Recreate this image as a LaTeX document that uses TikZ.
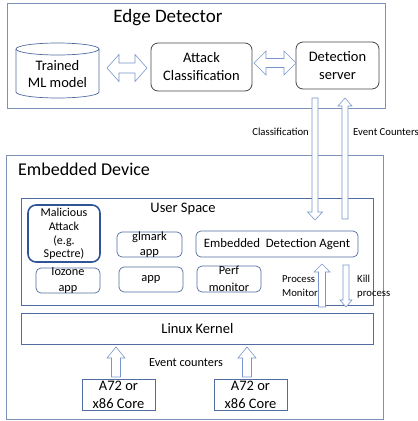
\documentclass[tikz,border=0pt]{standalone}
\usepackage{fontspec}
\setmainfont{Carlito}
\definecolor{outerc}{RGB}{125,145,185}
\definecolor{appc}{RGB}{80,108,160}
\definecolor{arrc}{RGB}{120,150,205}
\definecolor{darkb}{RGB}{47,85,151}
\definecolor{grayc}{RGB}{70,70,70}
\newcommand{\vup}[6]{% x, tip y, base y, shaft half, head half, head len
  \draw[blockarrow] (#1-#4,#3) -- (#1-#4,#2+#6) -- (#1-#5,#2+#6) -- (#1,#2) -- (#1+#5,#2+#6) -- (#1+#4,#2+#6) -- (#1+#4,#3) -- cycle;}
\newcommand{\vdown}[6]{% x, tip y, base y, shaft half, head half, head len
  \draw[blockarrow] (#1-#4,#3) -- (#1-#4,#2-#6) -- (#1-#5,#2-#6) -- (#1,#2) -- (#1+#5,#2-#6) -- (#1+#4,#2-#6) -- (#1+#4,#3) -- cycle;}
\newcommand{\hdouble}[6]{% x left, x right, y, shaft half, head half, head len
  \draw[blockarrow] (#1,#3) -- (#1+#6,#3-#5) -- (#1+#6,#3-#4) -- (#2-#6,#3-#4) -- (#2-#6,#3-#5) -- (#2,#3) -- (#2-#6,#3+#5) -- (#2-#6,#3+#4) -- (#1+#6,#3+#4) -- (#1+#6,#3+#5) -- cycle;}
\tikzset{
  outerbox/.style={draw=outerc, line width=0.8pt, inner sep=0pt},
  rbox/.style={draw=grayc, line width=0.8pt, rounded corners=7pt, inner sep=0pt},
  appbox/.style={draw=appc, line width=0.7pt, rounded corners=5pt, inner sep=0pt},
  corebox/.style={draw=appc, line width=0.7pt, inner sep=0pt},
  txt/.style={inner sep=0pt, align=center},
  blockarrow/.style={draw=arrc, fill=white, line width=0.6pt, line join=miter},
  lbl/.style={inner sep=0pt, font=\fontsize{10.7}{14}\selectfont, align=left},
}
\begin{document}
\begin{tikzpicture}[x=1pt,y=-1pt]
\useasboundingbox (0,0) rectangle (418,421);
% Edge detector
\node[outerbox, minimum width=378pt, minimum height=105pt, anchor=north west] (edge) at (7,3) {};
\node[txt, font=\fontsize{19}{21}\selectfont] (edgetitle) at (168,18) {Edge Detector};
% cylinder
\draw[draw=appc, line width=0.7pt] (16,49) -- (16,92) arc[start angle=180, end angle=0, x radius=41.5, y radius=6] -- (99,49);
\draw[draw=appc, line width=0.7pt] (57.5,49) ellipse[x radius=41.5, y radius=6];
\node[txt, font=\fontsize{14.5}{17}\selectfont] (ml) at (57.5,74) {Trained\\ML model};
\node[rbox, minimum width=101pt, minimum height=48pt] (ac) at (201.5,67) {};
\node[txt, font=\fontsize{14.5}{18}\selectfont] at (ac) {Attack\\Classification};
\node[rbox, minimum width=83pt, minimum height=47pt] (ds) at (337.5,65.5) {};
\node[txt, font=\fontsize{14.5}{18}\selectfont] at (ds) {Detection\\server};
\hdouble{107}{147}{68}{5}{13.5}{12}
\hdouble{254}{296}{63}{4.5}{12}{12}
% Embedded device
\node[outerbox, minimum width=377pt, minimum height=264pt, anchor=north west] (emb) at (6,155) {};
\node[inner sep=0pt, font=\fontsize{18}{20}\selectfont, anchor=west] (embtitle) at (18,169) {Embedded Device};
\node[outerbox, draw=appc, minimum width=352pt, minimum height=107pt, anchor=north west] (us) at (21,198) {};
\node[txt, font=\fontsize{14.5}{16}\selectfont] (ustitle) at (183,209) {User Space};
\node[appbox, draw=darkb, line width=1.6pt, rounded corners=8pt, minimum width=72pt, minimum height=57pt] (mal) at (64,233.5) {};
\node[txt, font=\fontsize{12}{13.7}\selectfont] at (64,234) {Malicious\\Attack\\(e.g.\\Spectre)};
\node[appbox, minimum width=65pt, minimum height=25pt] (gl) at (149.5,244.5) {};
\node[txt, font=\fontsize{12.5}{15}\selectfont] at (149.5,245) {glmark\\app};
\node[appbox, minimum width=162pt, minimum height=26pt] (eda) at (277,244) {};
\node[txt, font=\fontsize{12.8}{15}\selectfont] at (eda) {Embedded\hspace{0.45em}Detection Agent};
\node[appbox, minimum width=64pt, minimum height=25pt] (io) at (68,280.5) {};
\node[txt, font=\fontsize{12.3}{16}\selectfont] at (68,281) {Iozone\\app};
\node[appbox, minimum width=64pt, minimum height=25pt] (app) at (151,279.5) {};
\node[txt, font=\fontsize{12.5}{15}\selectfont] at (app) {app};
\node[appbox, minimum width=64pt, minimum height=26pt] (perf) at (229,279) {};
\node[txt, font=\fontsize{12.3}{17}\selectfont] at (229,279) {Perf\\monitor};
\node[outerbox, draw=appc, minimum width=352pt, minimum height=31pt, anchor=north west] (lk) at (21,313) {};
\node[txt, font=\fontsize{14.5}{16}\selectfont] at (lk) {Linux Kernel};
\node[corebox, minimum width=73pt, minimum height=31pt] (c1) at (118.5,394.5) {};
\node[txt, font=\fontsize{14.5}{18}\selectfont] at (c1) {A72 or\\x86 Core};
\node[corebox, minimum width=73pt, minimum height=31pt] (c2) at (250.5,394.5) {};
\node[txt, font=\fontsize{14.5}{18}\selectfont] at (c2) {A72 or\\x86 Core};
% vertical arrows between edge and device
\vdown{315}{220}{98}{3}{7.5}{8}
\vup{345}{98}{219}{3}{7}{8}
\node[lbl, anchor=east] (cl) at (309,132) {Classification};
\node[lbl, anchor=west] (ec) at (353,132) {Event Counters};
% process monitor / kill
\vup{322}{264}{307}{3.5}{8}{8}
\vdown{346}{307}{265}{3}{6}{7}
\node[lbl, anchor=west] (pm) at (282,286) {Process\\Monitor};
\node[lbl, anchor=west] (kp) at (357,287) {Kill\\process};
% core arrows
\vup{116}{347}{377}{4.5}{9}{11}
\vup{247}{347}{377}{4.5}{9}{11}
\node[txt, font=\fontsize{12.3}{14}\selectfont] (evc) at (186,363) {Event counters};
\end{tikzpicture}
\end{document}
